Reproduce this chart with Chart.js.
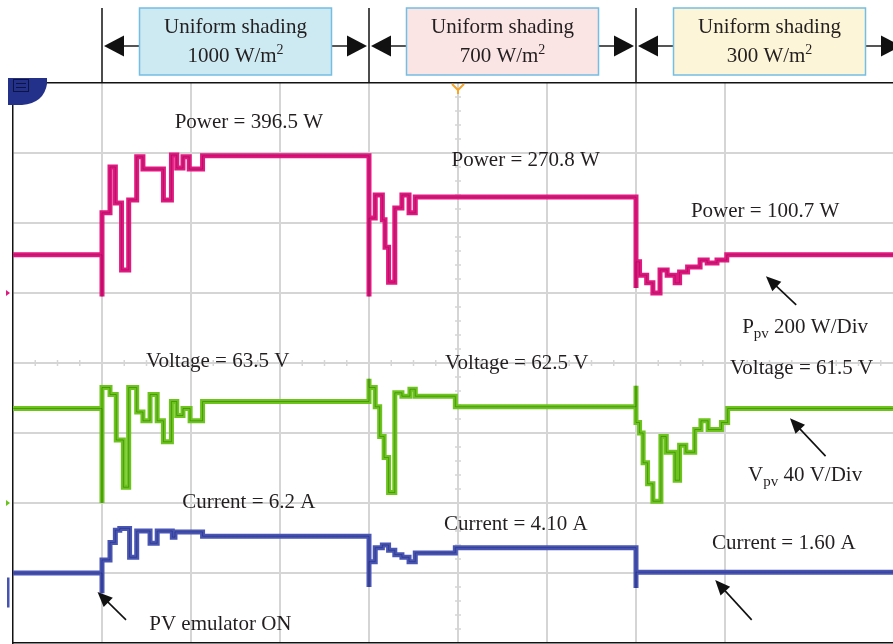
<!DOCTYPE html>
<html><head><meta charset="utf-8">
<script src="https://cdn.jsdelivr.net/npm/chart.js@4.4.1/dist/chart.umd.min.js"></script>
<style>html,body{margin:0;padding:0;background:#fff;overflow:hidden}canvas{display:block}</style>
</head><body>
<canvas id="c" width="893" height="644"></canvas>
<script>
// Time axis in oscilloscope divisions (10 horizontal divisions, right edge cropped)
const powerTime = [0, 1.00, 1.00, 1.09, 1.15, 1.22, 1.30, 1.39, 1.46, 1.69, 1.78, 1.84, 1.91, 1.98, 2.13, 4.00, 4.00, 4.07, 4.15, 4.18, 4.22, 4.29, 4.37, 4.45, 4.52, 7.00, 7.00, 7.04, 7.12, 7.19, 7.27, 7.35, 7.44, 7.49, 7.58, 7.72, 7.80, 7.91, 8.02, 9.9];
const powerW    = [109, -10, 229, 360, 257, 66, 266, 389, 354, 266, 394, 357, 389, 354, 392, -10, 214, 280, 209, 131, 31, 243, 280, 229, 274, 14, 89, 51, 29, 0, 66, 51, 29, 60, 74, 94, 86, 94, 109, 109];

const voltTime = [0, 1.00, 1.00, 1.09, 1.16, 1.24, 1.30, 1.39, 1.46, 1.54, 1.62, 1.69, 1.78, 1.84, 1.91, 1.99, 2.13, 4.00, 4.00, 4.07, 4.12, 4.17, 4.22, 4.29, 4.37, 4.46, 4.52, 4.97, 7.00, 7.00, 7.04, 7.08, 7.13, 7.19, 7.28, 7.34, 7.44, 7.49, 7.56, 7.66, 7.73, 7.81, 7.96, 8.03, 9.9];
const voltV    = [54, 0, 66, 62, 36, 9, 66, 52, 47, 62, 47, 35, 58, 50, 54, 47, 58, 71, 66, 55, 38, 26, 6, 63, 61, 65, 61, 55, 67, 46, 40, 23, 11, 1, 38, 29, 13, 33, 29, 42, 47, 42, 46, 54, 54];

const currTime = [0, 1.00, 1.00, 1.09, 1.15, 1.20, 1.31, 1.39, 1.54, 1.62, 1.79, 1.82, 2.13, 4.00, 4.00, 4.07, 4.15, 4.22, 4.29, 4.37, 4.45, 4.52, 4.97, 7.00, 7.00, 9.9];
const currA    = [2.0, -0.3, 3.5, 5.5, 6.9, 7.1, 3.8, 6.8, 5.4, 6.8, 6.1, 6.7, 6.2, 0.4, 3.3, 4.9, 5.2, 4.6, 4.1, 3.8, 3.3, 4.3, 4.9, 0.3, 2.1, 2.1];

// Event boundaries (divisions) and box texts
const eventTimes = [1, 4, 7, 10];
const boxLine1 = ['Uniform shading', 'Uniform shading', 'Uniform shading'];
const boxLine2 = ['1000 W/m', '700 W/m', '300 W/m'];

const readoutTexts = ['Power = 396.5 W', 'Power = 270.8 W', 'Power = 100.7 W',
  'Voltage = 63.5 V', 'Voltage = 62.5 V', 'Voltage = 61.5 V',
  'Current = 6.2 A', 'Current = 4.10 A', 'Current = 1.60 A'];

// Channel scales (units per division, ground position in divisions from top)
const DIVS_Y = 8;
const POWER_PER_DIV = 200, POWER_ZERO = 3;
const VOLT_PER_DIV = 40, VOLT_ZERO = 6;
const CURR_PER_DIV = 8, CURR_ZERO = 7.25;
const X_MAX = 880 / 89;

const GRID = '#d5d5d5';
const FONT = '"Liberation Serif", "Times New Roman", serif';
const TXT = '#231f20';

const pts = (ts, vs) => ts.map((t, i) => ({x: t, y: vs[i]}));
function trace(data, axis, color, dark) {
  return [
    {data, yAxisID: axis, borderColor: dark, borderWidth: 1, order: 0, stepped: true, pointRadius: 0, fill: false},
    {data, yAxisID: axis, borderColor: color, borderWidth: 5, order: 1, stepped: true, pointRadius: 0, fill: false}
  ];
}

function arrowHead(ctx, x1, y1, x2, y2, len, half) {
  const a = Math.atan2(y2 - y1, x2 - x1);
  ctx.beginPath();
  ctx.moveTo(x2, y2);
  ctx.lineTo(x2 - len * Math.cos(a) + half * Math.sin(a), y2 - len * Math.sin(a) - half * Math.cos(a));
  ctx.lineTo(x2 - len * Math.cos(a) - half * Math.sin(a), y2 - len * Math.sin(a) + half * Math.cos(a));
  ctx.closePath();
  ctx.fill();
}
function callout(ctx, x1, y1, x2, y2) {
  ctx.save();
  ctx.strokeStyle = '#111'; ctx.fillStyle = '#111'; ctx.lineWidth = 1.6;
  const a = Math.atan2(y2 - y1, x2 - x1);
  ctx.beginPath(); ctx.moveTo(x1, y1); ctx.lineTo(x2 - 10 * Math.cos(a), y2 - 10 * Math.sin(a)); ctx.stroke();
  arrowHead(ctx, x1, y1, x2, y2, 15, 6.5);
  ctx.restore();
}
function subLabel(ctx, main, sub, rest, cx, cy) {
  ctx.save();
  ctx.textBaseline = 'middle'; ctx.textAlign = 'left'; ctx.fillStyle = TXT;
  const big = '21px ' + FONT, small = '15px ' + FONT;
  ctx.font = big; const w1 = ctx.measureText(main).width, w3 = ctx.measureText(rest).width;
  ctx.font = small; const w2 = ctx.measureText(sub).width;
  let x = cx - (w1 + w2 + w3) / 2;
  ctx.font = big; ctx.fillText(main, x, cy); x += w1;
  ctx.font = small; ctx.fillText(sub, x, cy + 7); x += w2;
  ctx.font = big; ctx.fillText(rest, x, cy);
  ctx.restore();
}

const decor = {
  id: 'decor',
  beforeDatasetsDraw(chart) {
    const ctx = chart.ctx, xs = chart.scales.x, yd = chart.scales.yDiv;
    ctx.save();
    ctx.strokeStyle = GRID; ctx.lineWidth = 1.5;
    const yc = yd.getPixelForValue(DIVS_Y / 2);
    for (let k = 1; k < X_MAX * 4; k++) {
      if (k % 4 === 0) continue;
      const x = xs.getPixelForValue(k / 4);
      ctx.beginPath(); ctx.moveTo(x, yc - 3); ctx.lineTo(x, yc + 3); ctx.stroke();
    }
    const xc = xs.getPixelForValue(5);
    for (let k = 1; k < DIVS_Y * 5; k++) {
      if (k % 5 === 0) continue;
      const y = yd.getPixelForValue(k / 5);
      ctx.beginPath(); ctx.moveTo(xc - 3, y); ctx.lineTo(xc + 3, y); ctx.stroke();
    }
    ctx.restore();
  },
  afterDraw(chart) {
    const ctx = chart.ctx, xs = chart.scales.x, yd = chart.scales.yDiv;
    const area = chart.chartArea;
    const px = t => xs.getPixelForValue(t), py = d => yd.getPixelForValue(d);
    ctx.save();
    // event lines
    ctx.strokeStyle = '#111'; ctx.lineWidth = 1.5;
    eventTimes.slice(0, 3).forEach(t => {
      ctx.beginPath(); ctx.moveTo(px(t), 8); ctx.lineTo(px(t), area.top); ctx.stroke();
    });
    const fills = ['#cde9f2', '#fae4e4', '#fdf5d7'];
    for (let i = 0; i < 3; i++) {
      const a = px(eventTimes[i]), b = px(eventTimes[i + 1]), ay = 46;
      ctx.strokeStyle = '#555'; ctx.lineWidth = 2.2;
      ctx.beginPath(); ctx.moveTo(a + 10, ay); ctx.lineTo(b - 10, ay); ctx.stroke();
      ctx.fillStyle = '#111';
      arrowHead(ctx, a + 30, ay, a + 2, ay, 20, 10.5);
      arrowHead(ctx, b - 30, ay, b - 2, ay, 20, 10.5);
      const cx = (a + b) / 2, w = 192, h = 67;
      ctx.fillStyle = fills[i]; ctx.fillRect(cx - w / 2, 8, w, h);
      ctx.strokeStyle = '#74bde3'; ctx.lineWidth = 1.5; ctx.strokeRect(cx - w / 2, 8, w, h);
      ctx.fillStyle = TXT; ctx.textAlign = 'center'; ctx.textBaseline = 'middle';
      ctx.font = '21px ' + FONT;
      ctx.fillText(boxLine1[i], cx, 27);
      const w2 = ctx.measureText(boxLine2[i]).width;
      ctx.font = '14px ' + FONT; const ws = ctx.measureText('2').width;
      ctx.font = '21px ' + FONT; ctx.textAlign = 'left';
      const x0 = cx - (w2 + ws) / 2;
      ctx.fillText(boxLine2[i], x0, 56);
      ctx.font = '14px ' + FONT; ctx.fillText('2', x0 + w2, 50);
    }
    // readouts: [time, divisions-from-top]
    const pos = [[2.65, 0.56], [5.76, 1.11], [8.45, 1.84], [2.3, 3.98], [5.66, 4.01], [8.86, 4.08], [2.65, 5.99], [5.65, 6.31], [8.66, 6.58]];
    ctx.fillStyle = TXT; ctx.textAlign = 'center'; ctx.textBaseline = 'middle'; ctx.font = '21px ' + FONT;
    readoutTexts.forEach((s, i) => ctx.fillText(s, px(pos[i][0]), py(pos[i][1])));
    ctx.fillText('PV emulator ON', px(2.33), py(7.74));
    subLabel(ctx, 'P', 'pv', ' 200 W/Div', px(8.9), py(3.49));
    subLabel(ctx, 'V', 'pv', ' 40 V/Div', px(8.9), py(5.6));
    callout(ctx, px(8.8), py(3.17), px(8.46), py(2.76));
    callout(ctx, px(9.13), py(5.33), px(8.73), py(4.79));
    callout(ctx, px(8.3), py(7.67), px(7.89), py(7.1));
    callout(ctx, px(1.27), py(7.67), px(0.95), py(7.27));
    // trigger marker
    ctx.strokeStyle = '#f4a52a'; ctx.lineWidth = 2;
    const tx = px(5);
    ctx.beginPath(); ctx.moveTo(tx - 6, area.top + 1); ctx.lineTo(tx, area.top + 7); ctx.lineTo(tx + 6, area.top + 1);
    ctx.moveTo(tx, area.top + 7); ctx.lineTo(tx, area.top + 11); ctx.stroke();
    // channel ground markers
    const yP = chart.scales.yP.getPixelForValue(0), yV = chart.scales.yV.getPixelForValue(0), yI = chart.scales.yI.getPixelForValue(0);
    ctx.fillStyle = '#e0187f'; ctx.beginPath(); ctx.moveTo(6, yP - 3); ctx.lineTo(10, yP); ctx.lineTo(6, yP + 3); ctx.fill();
    ctx.fillStyle = '#69c31a'; ctx.beginPath(); ctx.moveTo(6, yV - 3); ctx.lineTo(10, yV); ctx.lineTo(6, yV + 3); ctx.fill();
    ctx.fillStyle = '#4653b0'; ctx.fillRect(7, yI - 13, 2.5, 30);
    // scope icon
    ctx.fillStyle = '#23318a';
    ctx.beginPath(); ctx.moveTo(8, 78); ctx.lineTo(47, 78); ctx.lineTo(47, 84);
    ctx.quadraticCurveTo(44, 103, 22, 105); ctx.lineTo(8, 105); ctx.closePath(); ctx.fill();
    ctx.strokeStyle = '#0d1440'; ctx.lineWidth = 1;
    ctx.strokeRect(13.5, 79.5, 15, 12);
    ctx.beginPath(); ctx.moveTo(16, 83.5); ctx.lineTo(26, 83.5); ctx.moveTo(16, 87.5); ctx.lineTo(26, 87.5); ctx.stroke();
    ctx.restore();
  }
};

new Chart(document.getElementById('c'), {
  type: 'line',
  data: {
    datasets: [
      ...trace(pts(powerTime, powerW), 'yP', '#e0187f', 'rgba(110,10,60,0.35)'),
      ...trace(pts(voltTime, voltV), 'yV', '#6cc41c', 'rgba(30,90,15,0.4)'),
      ...trace(pts(currTime, currA), 'yI', '#4855b2', 'rgba(20,28,100,0.4)')
    ]
  },
  options: {
    responsive: false, animation: false, devicePixelRatio: 1,
    layout: {padding: {left: 13, top: 83, right: 0, bottom: 1}},
    plugins: {legend: {display: false}, tooltip: {enabled: false}},
    scales: {
      x: {type: 'linear', position: 'bottom', min: 0, max: X_MAX,
        afterBuildTicks: s => { s.ticks = s.ticks.filter(t => Number.isInteger(t.value)); },
        ticks: {display: false, stepSize: 1},
        grid: {color: c => (c.tick && c.tick.value === 0) ? 'rgba(0,0,0,0)' : GRID, lineWidth: 2, drawTicks: false},
        border: {display: true, color: '#111', width: 1.5}},
      xTop: {type: 'linear', position: 'top', min: 0, max: X_MAX,
        ticks: {display: false}, grid: {color: 'rgba(0,0,0,0)', drawTicks: false},
        border: {display: true, color: '#111', width: 1.5}},
      yDiv: {type: 'linear', position: 'left', reverse: true, min: 0, max: DIVS_Y,
        ticks: {display: false, stepSize: 1},
        grid: {color: c => (c.tick && (c.tick.value === 0 || c.tick.value === DIVS_Y)) ? 'rgba(0,0,0,0)' : GRID, lineWidth: 2, drawTicks: false},
        border: {display: true, color: '#111', width: 1.5}},
      yP: {display: false, min: -(DIVS_Y - POWER_ZERO) * POWER_PER_DIV, max: POWER_ZERO * POWER_PER_DIV},
      yV: {display: false, min: -(DIVS_Y - VOLT_ZERO) * VOLT_PER_DIV, max: VOLT_ZERO * VOLT_PER_DIV},
      yI: {display: false, min: -(DIVS_Y - CURR_ZERO) * CURR_PER_DIV, max: CURR_ZERO * CURR_PER_DIV}
    }
  },
  plugins: [decor]
});
</script>
</body></html>
